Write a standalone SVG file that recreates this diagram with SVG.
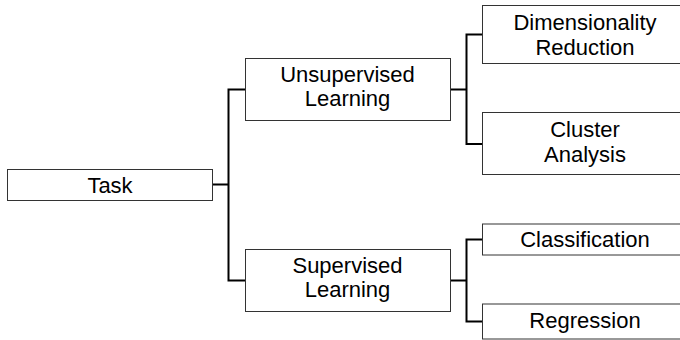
<svg xmlns="http://www.w3.org/2000/svg" width="680" height="340" viewBox="0 0 680 340">
<style>
.box{fill:#fff;stroke:#333;stroke-width:1}
.lbl{font-family:"Liberation Sans",Arial,Helvetica,sans-serif;font-size:22px;fill:#000;text-anchor:middle}
.conn{fill:none;stroke:#000;stroke-width:2}
</style>
<rect width="680" height="340" fill="#fff"/>
<g id="connectors">
<path class="conn" d="M212,184.5 H228.5 M228.5,88.5 V281.5 M227.5,89.5 H245 M227.5,280.5 H245"/>
<path class="conn" d="M450,89.5 H466.5 M466.5,33.5 V145 M465.5,34.5 H482 M465.5,144 H482"/>
<path class="conn" d="M450,280.5 H466.5 M466.5,238.5 V322.5 M465.5,239.5 H482 M465.5,321.5 H482"/>
</g>
<g id="task">
<rect class="box" x="7.5" y="169.5" width="205" height="31"/>
<text class="lbl" x="110" y="193">Task</text>
</g>
<g id="unsupervised">
<rect class="box" x="245.5" y="58.5" width="205" height="62"/>
<text class="lbl" x="347.5" y="82">Unsupervised</text>
<text class="lbl" x="347.5" y="106">Learning</text>
</g>
<g id="supervised">
<rect class="box" x="245.5" y="249.5" width="205" height="62"/>
<text class="lbl" x="347.5" y="272.5">Supervised</text>
<text class="lbl" x="347.5" y="297">Learning</text>
</g>
<g id="dimensionality">
<rect class="box" x="482.5" y="5.5" width="205" height="58"/>
<text class="lbl" x="585" y="30">Dimensionality</text>
<text class="lbl" x="585" y="55">Reduction</text>
</g>
<g id="cluster">
<rect class="box" x="482.5" y="112.5" width="205" height="62"/>
<text class="lbl" x="585" y="137">Cluster</text>
<text class="lbl" x="585" y="161.5">Analysis</text>
</g>
<g id="classification">
<rect class="box" x="482.5" y="224" width="205" height="31"/>
<text class="lbl" x="585" y="246.5">Classification</text>
</g>
<g id="regression">
<rect class="box" x="482.5" y="304" width="205" height="35"/>
<text class="lbl" x="585" y="328">Regression</text>
</g>
</svg>
